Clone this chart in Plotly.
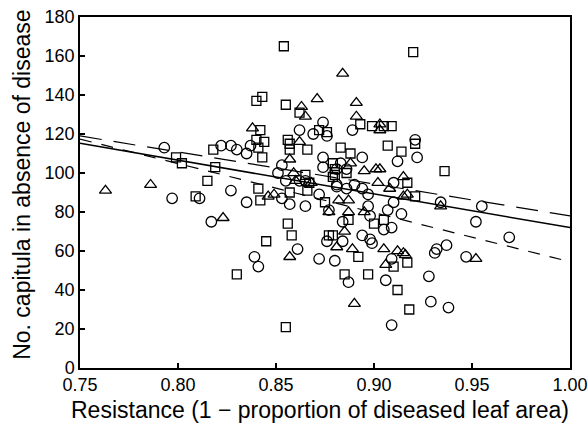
import plotly.graph_objects as go

# Triangles
tri_x = [0.763, 0.786, 0.823, 0.838, 0.846, 0.849, 0.857, 0.857, 0.859, 0.860, 0.862, 0.863, 0.865, 0.868, 0.871,
         0.877, 0.881, 0.882, 0.884, 0.885, 0.887, 0.887, 0.888, 0.889, 0.890, 0.891, 0.891, 0.895, 0.895, 0.901,
         0.903, 0.902, 0.903, 0.903, 0.905, 0.906, 0.908, 0.912, 0.915, 0.916, 0.915, 0.915, 0.917, 0.934, 0.952]
tri_y = [91, 94, 77, 123, 88, 89, 107, 57, 100, 96, 116, 134, 129, 95, 138,
         80, 62, 86, 151, 70, 86, 80, 105, 61, 33, 136, 129, 80, 101, 102,
         102, 95, 125, 122, 61, 53, 92, 60, 59, 58, 98, 88, 89, 83, 56]

# Squares
sq_x = [0.799, 0.802, 0.809, 0.815, 0.818, 0.819, 0.830, 0.840, 0.843, 0.840, 0.844, 0.842, 0.841, 0.843, 0.841,
        0.842, 0.845, 0.854, 0.855, 0.855, 0.856, 0.857, 0.857, 0.856, 0.858, 0.857, 0.862, 0.865, 0.866, 0.867,
        0.866, 0.872, 0.876, 0.875, 0.877, 0.879, 0.879, 0.879, 0.880, 0.880, 0.883, 0.886, 0.887, 0.888, 0.885,
        0.892, 0.893, 0.897, 0.899, 0.900, 0.905, 0.905, 0.907, 0.909, 0.910, 0.912, 0.914, 0.917, 0.917, 0.918,
        0.920, 0.921, 0.921, 0.936]
sq_y = [108, 105, 88, 96, 112, 103, 48, 137, 139, 117, 116, 122, 113, 108, 92,
        86, 65, 165, 135, 21, 117, 115, 112, 74, 68, 90, 131, 99, 112, 95,
        91, 122, 121, 85, 68, 68, 105, 98, 99, 102, 113, 100, 76, 110, 48,
        57, 125, 48, 124, 74, 124, 76, 114, 124, 52, 40, 111, 54, 95, 30,
        162, 115, 88, 101]

# Circles
ci_x = [0.793, 0.797, 0.811, 0.817, 0.822, 0.827, 0.827, 0.830, 0.835, 0.835, 0.837, 0.839, 0.841, 0.851, 0.853,
        0.853, 0.855, 0.857, 0.861, 0.862, 0.862, 0.865, 0.865, 0.869, 0.872, 0.872, 0.874, 0.874, 0.874, 0.876,
        0.876, 0.877, 0.880, 0.881, 0.881, 0.881, 0.883, 0.884, 0.884, 0.886, 0.886, 0.887, 0.889, 0.890, 0.894,
        0.894, 0.894, 0.897, 0.897, 0.898, 0.898, 0.899, 0.905, 0.906, 0.907, 0.909, 0.909, 0.909, 0.910, 0.910,
        0.912, 0.914, 0.921, 0.922, 0.928, 0.929, 0.931, 0.932, 0.934, 0.937, 0.938, 0.947, 0.952, 0.955, 0.969]
ci_y = [113, 87, 87, 75, 114, 114, 91, 112, 110, 85, 114, 57, 52, 100, 104,
        87, 96, 84, 61, 122, 96, 83, 96, 120, 89, 56, 126, 108, 103, 119,
        65, 81, 55, 94, 102, 93, 105, 75, 65, 102, 92, 44, 122, 94, 108,
        92, 68, 89, 83, 78, 66, 64, 71, 45, 81, 72, 56, 22, 85, 95,
        106, 79, 117, 108, 47, 34, 59, 61, 85, 63, 31, 57, 75, 83, 67]

# Regression lines (endpoints at x = 0.75 and 1.00)
line_x = [0.75, 1.00]
solid_y = [115.2, 72.0]
long_dash_y = [119.0, 78.0]
short_dash_y = [117.4, 54.5]

x_ticks = [0.75, 0.80, 0.85, 0.90, 0.95, 1.00]
x_title = "Resistance (1 \u2212 proportion of diseased leaf area)"
y_title = "No. capitula in absence of disease"

fig = go.Figure()
mk = dict(color="black", width=1.3)
fig.add_trace(go.Scatter(x=tri_x, y=tri_y, mode="markers",
                         marker=dict(symbol="triangle-up-open", size=10.5, color="black", line=mk)))
fig.add_trace(go.Scatter(x=sq_x, y=sq_y, mode="markers",
                         marker=dict(symbol="square-open", size=9, color="black", line=mk)))
fig.add_trace(go.Scatter(x=ci_x, y=ci_y, mode="markers",
                         marker=dict(symbol="circle-open", size=10.5, color="black", line=mk)))
fig.add_trace(go.Scatter(x=line_x, y=solid_y, mode="lines", line=dict(color="black", width=1.5)))
fig.add_trace(go.Scatter(x=line_x, y=long_dash_y, mode="lines",
                         line=dict(color="black", width=1.2, dash="22px,12px")))
fig.add_trace(go.Scatter(x=line_x, y=short_dash_y, mode="lines",
                         line=dict(color="black", width=1.2, dash="12px,10px")))

font = "Liberation Sans, Arial, sans-serif"
fig.update_layout(
    width=588, height=429,
    margin=dict(l=80, r=18, t=17, b=61),
    paper_bgcolor="white", plot_bgcolor="white",
    showlegend=False,
    font=dict(family=font, size=18, color="black"),
)
axis_common = dict(ticks="inside", ticklen=5, tickwidth=1.5, tickcolor="black",
                   showline=True, linecolor="black", linewidth=1.5, mirror=True,
                   showgrid=False, zeroline=False, automargin=False,
                   ticklabeloverflow="allow", tickfont=dict(size=18))
fig.update_xaxes(range=[0.75, 1.0], tickvals=x_ticks, tickformat=".2f", **axis_common)
fig.update_yaxes(range=[0, 180], dtick=20, **axis_common)

fig.add_annotation(text=x_title, xref="paper", yref="paper", x=0.49, y=-0.12,
                   xanchor="center", yanchor="middle", showarrow=False, font=dict(size=23))
fig.add_annotation(text=y_title, xref="paper", yref="paper", x=-0.119, y=0.521,
                   xanchor="center", yanchor="middle", textangle=-90, showarrow=False, font=dict(size=23))

fig.write_html("out.html", config=dict(displayModeBar=False),
               post_script="document.body.style.margin='0';document.documentElement.style.overflow='hidden';document.body.style.overflow='hidden';")
